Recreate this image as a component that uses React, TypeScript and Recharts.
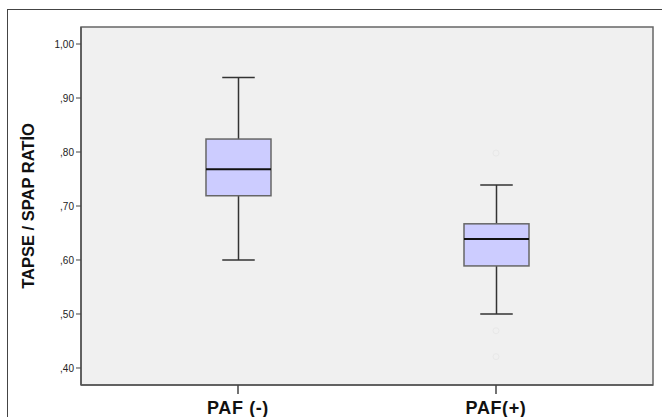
import React from "react";
import { ComposedChart, Bar, Scatter, XAxis, YAxis, CartesianGrid, ReferenceArea } from "recharts";

const groups = ["PAF (-)", "PAF(+)"];
const whiskerLow = [0.6, 0.5];
const q1 = [0.719, 0.589];
const median = [0.768, 0.639];
const q3 = [0.824, 0.667];
const whiskerHigh = [0.938, 0.739];
// faint outlier circles, only in PAF(+)
const outliers: (number | null)[][] = [
  [null, null, null],
  [0.798, 0.469, 0.421],
];
const yTicks = [0.4, 0.5, 0.6, 0.7, 0.8, 0.9, 1.0];
const yDomain = [0.3685, 1.0315];
const xDomain = [-0.6085, 1.6085];

const data = groups.map((name, i) => ({
  name,
  pos: i,
  min: whiskerLow[i],
  q1: q1[i],
  median: median[i],
  q3: q3[i],
  max: whiskerHigh[i],
  out1: outliers[i][0],
  out2: outliers[i][1],
  out3: outliers[i][2],
}));

const fmt = (v: number) => (v >= 1 ? "1,00" : "," + v.toFixed(2).slice(2));

const BoxShape = (props: any) => {
  const { x, y, width, height, payload } = props;
  const d = payload;
  const span = d.max - d.min;
  const toY = (v: number) => y + (height * (d.max - v)) / span;
  const cx = x + width / 2;
  const cap = width / 4;
  const yq3 = toY(d.q3);
  const yq1 = toY(d.q1);
  const ymed = toY(d.median);
  return (
    <g>
      <line x1={cx} x2={cx} y1={y} y2={yq3} stroke="#333" strokeWidth={1.5} />
      <line x1={cx} x2={cx} y1={yq1} y2={y + height} stroke="#333" strokeWidth={1.5} />
      <line x1={cx - cap} x2={cx + cap} y1={y} y2={y} stroke="#333" strokeWidth={1.5} />
      <line x1={cx - cap} x2={cx + cap} y1={y + height} y2={y + height} stroke="#333" strokeWidth={1.5} />
      <rect x={x} y={yq3} width={width} height={yq1 - yq3} fill="#ccccff" stroke="#666" strokeWidth={1.5} />
      <line x1={x} x2={x + width} y1={ymed} y2={ymed} stroke="#111" strokeWidth={2} />
    </g>
  );
};

const Outlier = (props: any) => {
  const { cx, cy } = props;
  if (cx == null || cy == null) return null;
  return <circle cx={cx} cy={cy} r={3} fill="none" stroke="#e8e8e8" strokeWidth={1} />;
};

const YLabel = () => (
  <text
    x={30}
    y={206}
    transform="rotate(-90 30 206)"
    textAnchor="middle"
    dominantBaseline="middle"
    fontSize={16.5}
    fontWeight="bold"
    fill="#111"
    fontFamily="Liberation Sans, Arial, sans-serif"
  >
    TAPSE / SPAP RATİO
  </text>
);

export default function App() {
  return (
    <div style={{ position: "absolute", left: 0, top: 0, width: 662, height: 417, overflow: "hidden", background: "#fff" }}>
      <div
        style={{
          position: "absolute",
          left: 7,
          top: 9,
          width: 700,
          height: 500,
          border: "1.5px solid #444",
        }}
      />
      <div style={{ position: "absolute", left: 0, top: 0 }}>
        <ComposedChart
          width={662}
          height={417}
          data={data}
          margin={{ top: 27, right: 9, bottom: 0, left: 0 }}
          style={{ fontFamily: "Liberation Sans, Arial, sans-serif" }}
        >
          <CartesianGrid fill="#f0f0f0" horizontal={false} vertical={false} />
          <ReferenceArea
            x1={xDomain[0]}
            x2={xDomain[1]}
            y1={yDomain[0]}
            y2={yDomain[1]}
            fill="none"
            stroke="#666"
            strokeWidth={1.5}
            ifOverflow="visible"
          />
          <XAxis
            dataKey="pos"
            type="number"
            domain={xDomain}
            ticks={[0, 1]}
            tickFormatter={(i: number) => groups[i] ?? ""}
            axisLine={{ stroke: "#555", strokeWidth: 1.5 }}
            tickLine={{ stroke: "#444", strokeWidth: 1.5 }}
            tickSize={9}
            tickMargin={7}
            height={32}
            tick={{ fontSize: 18, fontWeight: "bold", fill: "#111", letterSpacing: 0.6 }}
          />
          <YAxis
            type="number"
            domain={yDomain}
            ticks={yTicks}
            tickFormatter={fmt}
            width={81}
            axisLine={{ stroke: "#555", strokeWidth: 1.5 }}
            tickLine={{ stroke: "#444" }}
            tickSize={5}
            tickMargin={2}
            tick={{ fontSize: 10, fill: "#222" }}
            label={<YLabel />}
          />
          <Bar
            dataKey={(d: any) => [d.min, d.max]}
            barSize={65}
            shape={<BoxShape />}
            isAnimationActive={false}
          />
          <Scatter dataKey="out1" shape={<Outlier />} isAnimationActive={false} />
          <Scatter dataKey="out2" shape={<Outlier />} isAnimationActive={false} />
          <Scatter dataKey="out3" shape={<Outlier />} isAnimationActive={false} />
        </ComposedChart>
      </div>
    </div>
  );
}
